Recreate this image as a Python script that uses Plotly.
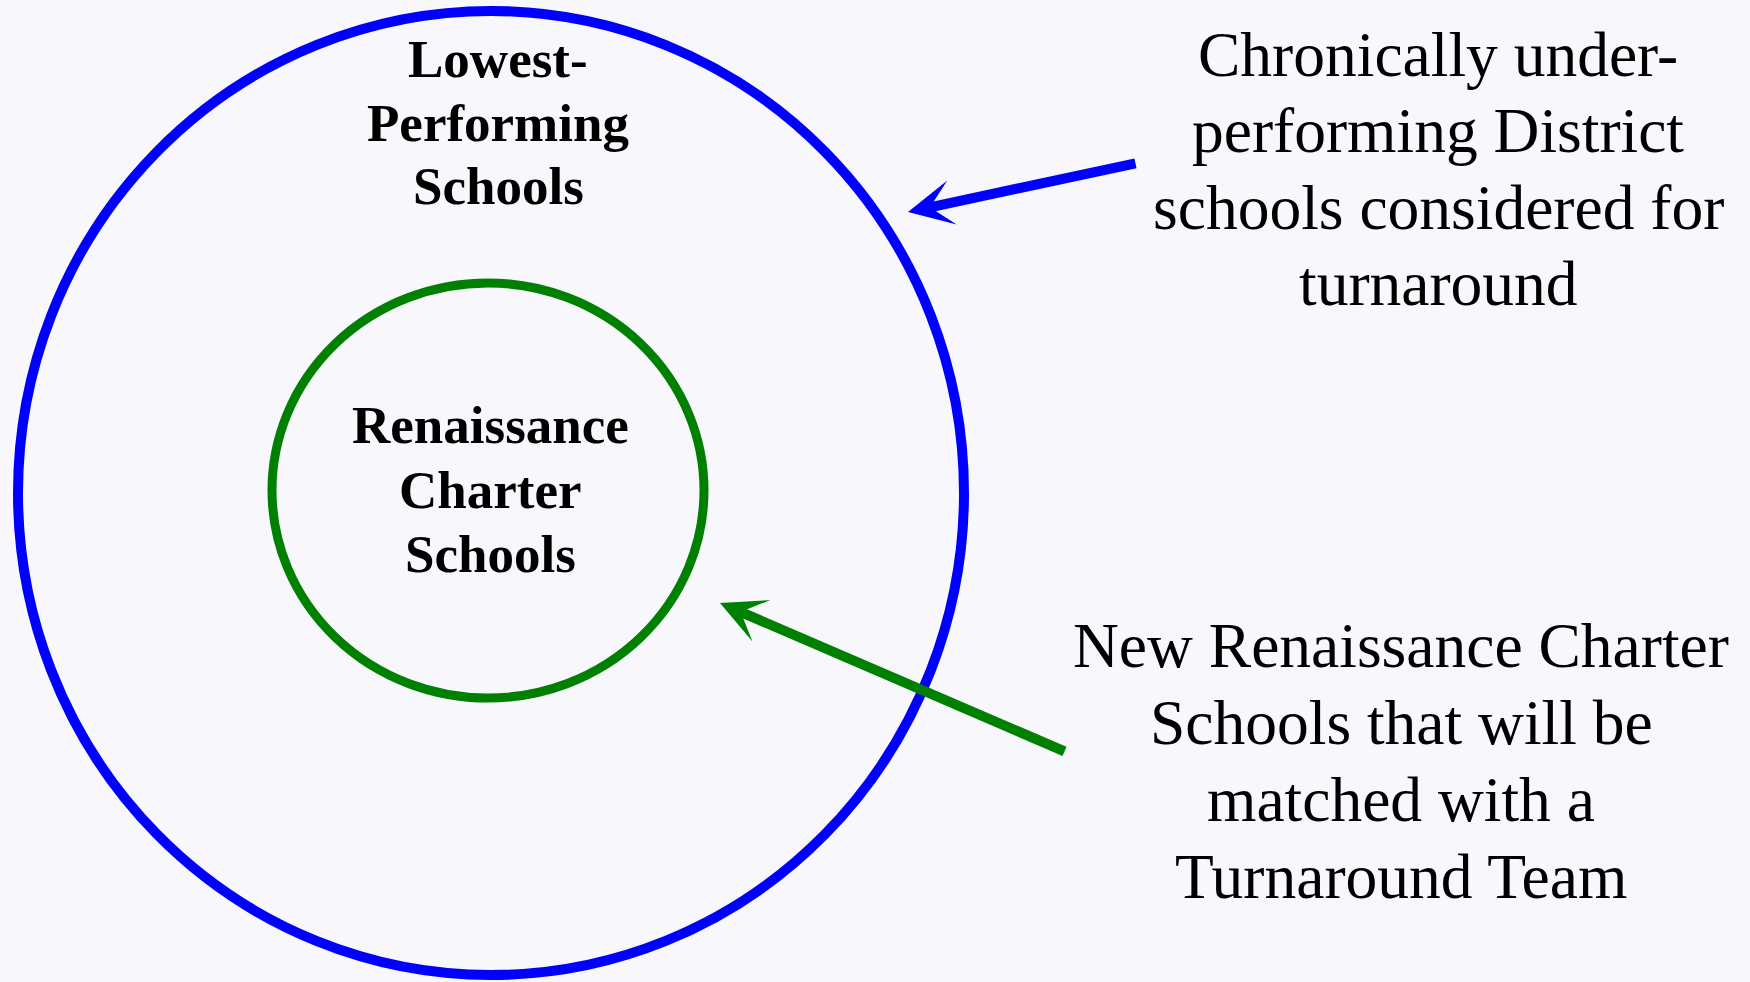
import plotly.graph_objects as go

# ---- content ----
outer_label_lines = ["Lowest-", "Performing", "Schools"]
inner_label_lines = ["Renaissance", "Charter", "Schools"]
callout_top_lines = ["Chronically under-", "performing District", "schools considered for", "turnaround"]
callout_bottom_lines = ["New Renaissance Charter", "Schools that will be", "matched with a", "Turnaround Team"]

# ---- layout geometry (pixel space of the 1750x982 canvas) ----
W, H = 1750, 982
BG = "#f8f8fc"
BLUE = "#0000ff"
GREEN = "#008000"

outer_box = dict(x0=18, x1=964, y0=11, y1=975)
inner_box = dict(x0=272, x1=704, y0=283, y1=698)

bold_size = 53
reg_size = 63.5
asc_off = 0.3375  # baseline -> box middle, in em

outer_label = dict(cx=498, base0=77, step=63.5)
inner_label = dict(cx=490, base0=443, step=64.5)
top_callout = dict(cx=1438, base0=76, step=76.3)
bottom_callout = dict(cx=1401, base0=667, step=77)

blue_arrow = dict(tip=(908, 212), tail=(1137, 163))
green_arrow = dict(tip=(720, 603), tail=(1066, 752))

fig = go.Figure()
fig.update_layout(
    width=W, height=H,
    margin=dict(l=0, r=0, t=0, b=0),
    paper_bgcolor=BG, plot_bgcolor=BG,
    xaxis=dict(range=[0, W], visible=False, fixedrange=True),
    yaxis=dict(range=[H, 0], visible=False, fixedrange=True),
    showlegend=False,
)

fig.add_shape(type="circle", xref="x", yref="y", line=dict(color=BLUE, width=10),
              fillcolor="rgba(0,0,0,0)", **outer_box)
fig.add_shape(type="circle", xref="x", yref="y", line=dict(color=GREEN, width=9),
              fillcolor="rgba(0,0,0,0)", **inner_box)


def add_lines(lines, spec, size, weight):
    for i, t in enumerate(lines):
        base = spec["base0"] + i * spec["step"]
        fig.add_annotation(
            x=spec["cx"], y=base - asc_off * size, xref="x", yref="y",
            text=t, showarrow=False, xanchor="center", yanchor="middle",
            font=dict(family="Liberation Serif", size=size, color="#000000", weight=weight),
        )


add_lines(outer_label_lines, outer_label, bold_size, "bold")
add_lines(inner_label_lines, inner_label, bold_size, "bold")
add_lines(callout_top_lines, top_callout, reg_size, "normal")
add_lines(callout_bottom_lines, bottom_callout, reg_size, "normal")


def add_arrow(spec, color):
    fig.add_annotation(
        x=spec["tip"][0], y=spec["tip"][1], xref="x", yref="y",
        ax=spec["tail"][0], ay=spec["tail"][1], axref="x", ayref="y",
        text="", showarrow=True, arrowhead=3, arrowsize=0.75, arrowwidth=10,
        arrowcolor=color, standoff=0,
    )


add_arrow(blue_arrow, BLUE)
add_arrow(green_arrow, GREEN)

fig.write_html(
    "out.html",
    config={"displayModeBar": False, "staticPlot": True},
    post_script="document.body.style.margin='0';document.body.style.background='%s';" % BG,
)
